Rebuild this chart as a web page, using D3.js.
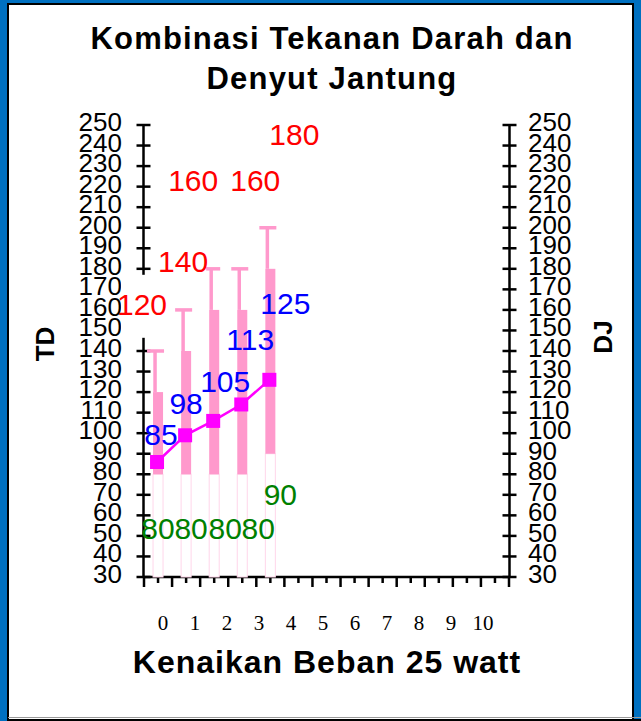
<!DOCTYPE html>
<html><head><meta charset="utf-8">
<script src="https://cdn.jsdelivr.net/npm/d3@7"></script>
<style>body{margin:0;background:#fff}svg{display:block}</style>
</head><body>
<script>
// ---- data ----
const categories = [0, 1, 2, 3, 4];
const systolic   = [120, 140, 160, 160, 180];
const diastolic  = [80, 80, 80, 80, 90];
const errorPlus  = [20, 20, 20, 20, 20];
const heartRate  = [85, 98, 105, 113, 125];
const yTickValues = d3.range(30, 251, 10);
const xTickLabels = [0, 1, 2, 3, 4, 5, 6, 7, 8, 9, 10];
const bandSlots = d3.range(13);
const titleLines = ["Kombinasi Tekanan Darah dan", "Denyut Jantung"];
const yTitleLeft = "TD", yTitleRight = "DJ", xTitle = "Kenaikan Beban 25 watt";

// ---- layout (pixel nudges for label placement) ----
const redOff   = [[-16,-47],[-3,-49],[-21,-89],[13,-89],[24,-94]];
const blueOff  = [[4,-30],[1,-34],[12,-42],[9,-67],[16,-79]];
const greenOff = [[0,54],[5,54],[11,54],[16,54],[10,40]];

const W = 641, H = 721;
const svg = d3.select("body").append("svg").attr("width", W).attr("height", H);
const FONT = "'Liberation Sans', Arial, sans-serif";

// frame
svg.append("rect").attr("x",0).attr("y",0).attr("width",W).attr("height",H).attr("fill","#0070C0");
svg.append("rect").attr("x",8).attr("y",4).attr("width",625).attr("height",717)
  .attr("fill","#fff").attr("stroke","#000").attr("stroke-width",2);
svg.append("rect").attr("x",8).attr("y",717).attr("width",W-8).attr("height",1).attr("fill","#999");
svg.append("rect").attr("x",8).attr("y",719).attr("width",W-8).attr("height",2).attr("fill","#000");

// scales
const y = d3.scaleLinear().domain([30, 250]).range([577, 125]);
const xb = d3.scaleBand().domain(bandSlots).range([144, 509]).padding(0);
const xl = d3.scaleLinear().domain([0, 10]).range([163, 483]);
const cx = i => xb(i) + xb.bandwidth() / 2;
const xLeft = xb.range()[0] - 0.5, xRight = xb.range()[1] + 0.5;

// title
const t = svg.append("text").attr("text-anchor","middle").attr("font-family",FONT)
  .attr("font-weight","bold").attr("font-size",31).style("letter-spacing","1.2px");
titleLines.forEach((s,i)=> t.append("tspan").attr("x",332).attr("y", 49 + i*40).text(s));

// axes lines
const ax = svg.append("g").attr("stroke","#000").attr("stroke-width",2.5);
ax.append("line").attr("x1",xLeft).attr("x2",xLeft).attr("y1",y(250)).attr("y2",y(30));
ax.append("line").attr("x1",xRight).attr("x2",xRight).attr("y1",y(250)).attr("y2",y(30));
ax.append("line").attr("x1",xLeft).attr("x2",xRight).attr("y1",y(30)).attr("y2",y(30));
yTickValues.forEach(v=>{
  [xLeft, xRight].forEach(xx=>{
    ax.append("line").attr("x1",xx-7).attr("x2",xx+7).attr("y1",y(v)).attr("y2",y(v));
  });
});
// x ticks: long at band edges, short at band centres
bandSlots.concat([13]).forEach(i=>{
  const xx = i < 13 ? xb(i) : xb.range()[1];
  ax.append("line").attr("x1",xx).attr("x2",xx).attr("y1",y(30)).attr("y2",y(30)+10);
});
bandSlots.forEach(i=>{
  ax.append("line").attr("x1",cx(i)).attr("x2",cx(i)).attr("y1",y(30)).attr("y2",y(30)+6);
});

// y tick labels
const tl = svg.append("g").attr("font-family",FONT).attr("font-size",26).attr("fill","#000");
yTickValues.forEach(v=>{
  tl.append("text").attr("x",122).attr("y",y(v)+6).attr("text-anchor","end").text(v);
  tl.append("text").attr("x",528).attr("y",y(v)+6).attr("text-anchor","start").text(v);
});

// x tick labels
const xg = svg.append("g").attr("font-family","'Liberation Serif', 'Times New Roman', serif")
  .attr("font-size",21).attr("fill","#000").attr("text-anchor","middle");
xTickLabels.forEach(v=> xg.append("text").attr("x",xl(v)).attr("y",630).text(v));

// axis titles
svg.append("text").attr("transform","translate(54,344) rotate(-90)").attr("text-anchor","middle")
  .attr("font-family",FONT).attr("font-weight","bold").attr("font-size",26).text(yTitleLeft);
svg.append("text").attr("transform","translate(612,337) rotate(-90)").attr("text-anchor","middle")
  .attr("font-family",FONT).attr("font-weight","bold").attr("font-size",26).text(yTitleRight);
svg.append("text").attr("x",327).attr("y",673).attr("text-anchor","middle")
  .attr("font-family",FONT).attr("font-weight","bold").attr("font-size",32)
  .style("letter-spacing","1px").text(xTitle);

// bars
const PINK = "#FF99CC", BW = 10;
const bars = svg.append("g");
categories.forEach((c,i)=>{
  bars.append("rect").attr("x",cx(c)-BW/2).attr("y",y(diastolic[i])).attr("width",BW)
    .attr("height",y(30)-y(diastolic[i])).attr("fill","#fff").attr("stroke","#FFD6EA").attr("stroke-width",1);
  bars.append("rect").attr("x",cx(c)-BW/2).attr("y",y(systolic[i])).attr("width",BW)
    .attr("height",y(diastolic[i])-y(systolic[i])).attr("fill",PINK);
  const ex = cx(c)-3;
  bars.append("line").attr("x1",ex).attr("x2",ex).attr("y1",y(systolic[i]))
    .attr("y2",y(systolic[i]+errorPlus[i])).attr("stroke",PINK).attr("stroke-width",3.5);
  bars.append("line").attr("x1",ex-8).attr("x2",ex+9).attr("y1",y(systolic[i]+errorPlus[i]))
    .attr("y2",y(systolic[i]+errorPlus[i])).attr("stroke",PINK).attr("stroke-width",3.5);
});

// heart-rate line
const MAG = "#FF00FF";
const line = d3.line().x((d,i)=>cx(categories[i])-1).y(d=>y(d)-2);
svg.append("path").attr("d",line(heartRate)).attr("fill","none").attr("stroke",MAG).attr("stroke-width",2.5);
svg.append("g").selectAll("rect").data(heartRate).join("rect")
  .attr("x",(d,i)=>cx(categories[i])-1-7).attr("y",d=>y(d)-2-7).attr("width",14).attr("height",14).attr("fill",MAG);

// labels
const lab = svg.append("g").attr("font-family",FONT).attr("font-size",30).attr("text-anchor","middle");
// red (systolic) with white background boxes
categories.forEach((c,i)=>{
  const tx = cx(c)+redOff[i][0], ty = y(systolic[i]+errorPlus[i])+redOff[i][1];
  const g = lab.append("g");
  const txt = g.append("text").attr("x",tx).attr("y",ty).attr("dy","0.36em").attr("fill","#FF0000").text(systolic[i]);
  const bb = txt.node().getBBox();
  g.insert("rect","text").attr("x",bb.x+4).attr("y",bb.y-13).attr("width",bb.width-6).attr("height",bb.height+30).attr("fill","#fff");
});
categories.forEach((c,i)=>{
  lab.append("text").attr("x",cx(c)-1+blueOff[i][0]).attr("y",y(heartRate[i])+blueOff[i][1])
    .attr("dy","0.36em").attr("fill","#0000FF").text(heartRate[i]);
  lab.append("text").attr("x",cx(c)+greenOff[i][0]).attr("y",y(diastolic[i])+greenOff[i][1])
    .attr("dy","0.36em").attr("fill","#008000").text(diastolic[i]);
});
</script>
</body></html>
